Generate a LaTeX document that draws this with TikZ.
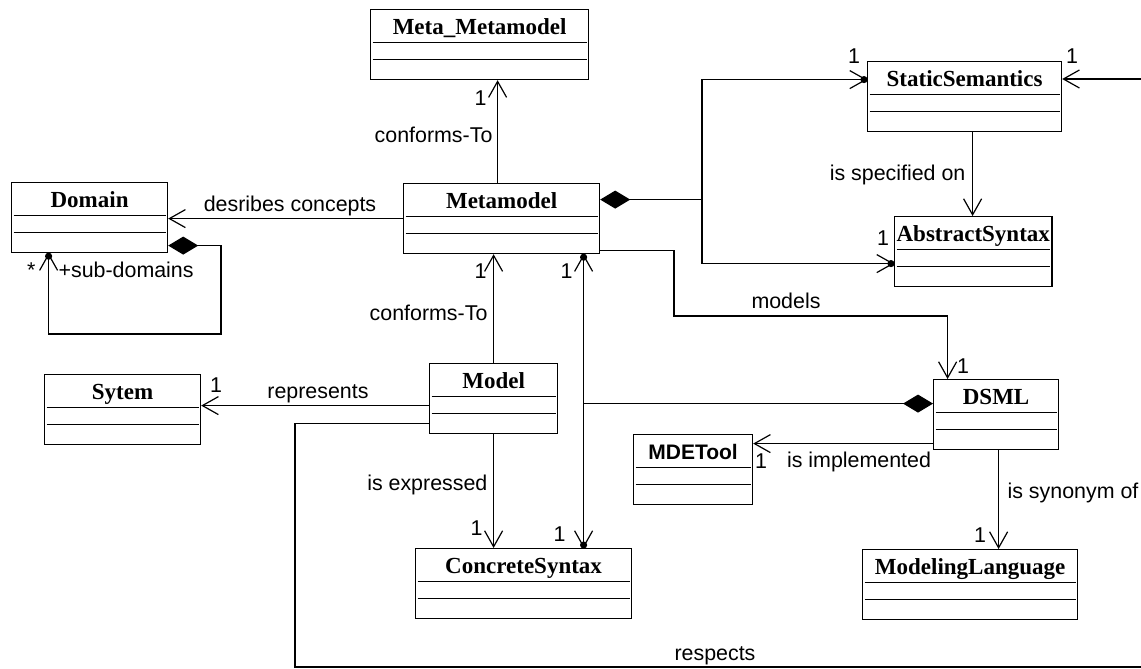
\documentclass[tikz,border=0pt]{standalone}
\usepackage{fontspec}
\setmainfont{Liberation Serif}
\setsansfont{Liberation Sans}
\usetikzlibrary{arrows.meta}

\begin{document}
\begin{tikzpicture}[x=0.5pt, y=-0.5pt, line width=0.6pt,
    umlclass/.style={draw, anchor=north west, minimum width=#1, minimum height=35pt,
        inner xsep=1pt, inner ysep=0pt, text height=12.5pt, text depth=22.5pt,
        font=\bfseries\fontsize{11.5}{13}\selectfont,
        path picture={
            \draw ([shift={(1pt,-16.5pt)}]path picture bounding box.north west) -- ([shift={(-1pt,-16.5pt)}]path picture bounding box.north east);
            \draw ([shift={(1pt,-25pt)}]path picture bounding box.north west) -- ([shift={(-1pt,-25pt)}]path picture bounding box.north east);
        }},
    lbl/.style={font=\sffamily\fontsize{10.7}{13}\selectfont, inner sep=0pt},
    assoc/.style={-{Straight Barb[length=8pt, width=9pt]}},
    navboth/.style={{Straight Barb[length=8pt, width=9pt]}-{Straight Barb[length=8pt, width=9pt]}},
    compose/.style={{Diamond[length=15pt, width=9pt]}-},
    composenav/.style={{Diamond[length=15pt, width=9pt]}-{Straight Barb[length=8pt, width=9pt]}}]
    \useasboundingbox (0,0) rectangle (1141,669);

    % Classes
    \node[umlclass=109pt] (meta) at (370,9) {Meta\_Metamodel};
    \node[umlclass=78pt] (domain) at (11,182) {Domain};
    \node[umlclass=98pt] (metamodel) at (403,183) {Metamodel};
    \node[umlclass=97pt] (static) at (867,61) {StaticSemantics};
    \node[umlclass=77.5pt] (abstract) at (894,216) {AbstractSyntax};
    \node[umlclass=78pt] (sytem) at (44,374) {Sytem};
    \node[umlclass=64pt] (model) at (429,363) {Model};
    \node[umlclass=108pt] (concrete) at (415,548) {ConcreteSyntax};
    \node[umlclass=59.5pt, font=\sffamily\bfseries\fontsize{10.5}{12}\selectfont] (mdetool) at (633,434) {MDETool};
    \node[umlclass=62.5pt] (dsml) at (933,379) {DSML};
    \node[umlclass=107.5pt] (modlang) at (862,549) {ModelingLanguage};

    % Bends and free ends
    \coordinate (subloop) at (221,334);
    \coordinate (mmjoin) at (702,199);
    \coordinate (offright) at (1141,79);
    \coordinate (modbend) at (674,316);
    \coordinate (respcorner) at (295,667);
    \coordinate (respend) at (1141,667);

    % Metamodel and its parts
    \draw[assoc] ([xshift=-2pt]metamodel.north) coordinate (cf1) -- (cf1 |- meta.south);
    \draw[assoc] (metamodel.west) -- (metamodel.west -| domain.east);
    \draw[composenav] ([yshift=-14pt]domain.east) -| (subloop) -| ([xshift=-20.5pt]domain.south) coordinate (subdot);
    \fill ([yshift=-1.5pt]subdot) circle (1.8pt);
    \draw[compose] ([yshift=9.5pt]metamodel.east) -| (mmjoin);
    \draw[assoc] (mmjoin) |- ([yshift=8.5pt]static.west) coordinate (ssdot);
    \draw[assoc] (mmjoin) |- ([yshift=-6pt]abstract.west) coordinate (asdot);
    \fill ([xshift=-1.5pt]ssdot) circle (1.8pt);
    \fill ([xshift=-1.5pt]asdot) circle (1.8pt);
    \draw[assoc] (offright) -- (offright -| static.east);
    \draw[assoc] ([xshift=4pt]static.south) coordinate (spec) -- (spec |- abstract.north);
    \draw[assoc] ([yshift=-16pt]metamodel.east) -| (modbend) -| ([xshift=-24.25pt]dsml.north);

    % Model
    \draw[assoc] (model.north) -- (model.north |- metamodel.south);
    \draw[navboth] ([xshift=41pt]metamodel.south) coordinate (mmcs) -- (mmcs |- concrete.north) coordinate (csdot);
    \fill ([yshift=-1.5pt]mmcs) circle (1.8pt);
    \fill ([yshift=1.5pt]csdot) circle (1.8pt);
    \draw[compose] ([yshift=5.5pt]dsml.west) coordinate (dsc) -- (dsc -| mmcs);
    \draw[assoc] ([yshift=-3.5pt]model.west) coordinate (rep) -- (rep -| sytem.east);
    \draw ([yshift=-12.5pt]model.west) -| (respcorner) -- (respend);
    \draw[assoc] (model.south) -- (model.south |- concrete.north);

    % DSML
    \draw[assoc] ([yshift=-14.5pt]dsml.west) coordinate (impl) -- (impl -| mdetool.east);
    \draw[assoc] ([xshift=1.25pt]dsml.south) coordinate (syn) -- (syn |- modlang.north);

    % Labels
    \node[lbl, anchor=base east] (lconf1) at (493,142) {conforms-To};
    \node[lbl, anchor=base east] (mmeta) at (487,105) {1};
    \node[lbl, anchor=base] (ldesc) at (290,211) {desribes concepts};
    \node[lbl, anchor=base east] (mstar) at (36,277) {*};
    \node[lbl, anchor=base west] (lsub) at (58,277) {+sub-domains};
    \node[lbl, anchor=base] (mstatic1) at (854,63) {1};
    \node[lbl, anchor=base] (mstatic2) at (1072,63) {1};
    \node[lbl, anchor=base east] (lspec) at (966,180) {is specified on};
    \node[lbl, anchor=base] (mabstract) at (883,245) {1};
    \node[lbl, anchor=base] (lmodels) at (786,308) {models};
    \node[lbl, anchor=base east] (mconf2) at (487,278) {1};
    \node[lbl, anchor=base east] (mmmcs) at (573,278) {1};
    \node[lbl, anchor=base east] (lconf2) at (488,320) {conforms-To};
    \node[lbl, anchor=base] (lrep) at (318,398) {represents};
    \node[lbl, anchor=base] (msytem) at (216,392) {1};
    \node[lbl, anchor=base east] (lexpr) at (488,490) {is expressed};
    \node[lbl, anchor=base east] (mexpr) at (483,535) {1};
    \node[lbl, anchor=base east] (mcs) at (566,541) {1};
    \node[lbl, anchor=base] (mtool) at (761,468) {1};
    \node[lbl, anchor=base] (limpl) at (859,467) {is implemented};
    \node[lbl, anchor=base] (mdsml) at (963,373) {1};
    \node[lbl, anchor=base west] (lsyn) at (1007,498) {is synonym of};
    \node[lbl, anchor=base] (mlang) at (980,542) {1};
    \node[lbl, anchor=base] (lresp) at (715,660) {respects};
\end{tikzpicture}
\end{document}
